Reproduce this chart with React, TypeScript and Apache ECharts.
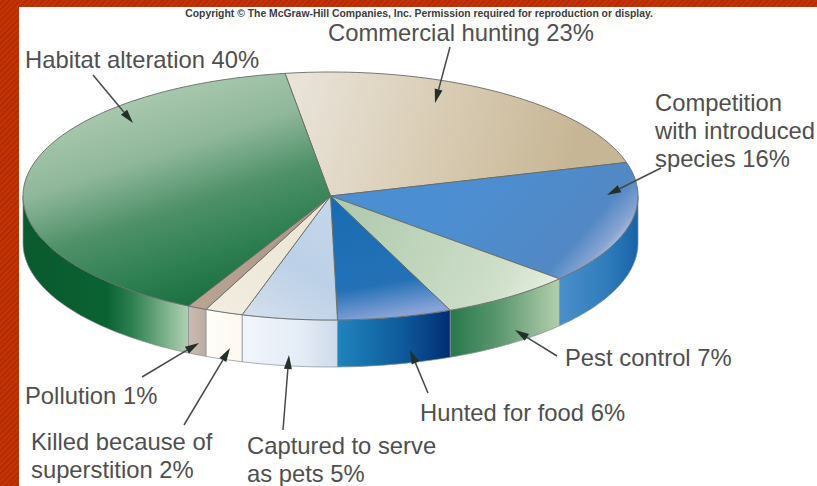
import React, { useEffect, useRef } from "react";
import * as echarts from "echarts";

// Causes of extinction, clockwise from the back of the disc.
const causes = [
  "Commercial hunting",
  "Competition with introduced species",
  "Pest control",
  "Hunted for food",
  "Captured to serve as pets",
  "Killed because of superstition",
  "Pollution",
  "Habitat alteration",
];
const shares = [23, 16, 7, 6, 5, 2, 1, 40];
const copyright =
  "Copyright © The McGraw-Hill Companies, Inc. Permission required for reproduction or display.";

// Disc geometry
const CX = 330.5;
const CY = 196;
const RX = 307.5;
const RY = 124;
const DEPTH = 47;
const START_DEG = -8.5;

const TEXT_COLOR = "#4f4f4f";
const EDGE = "#656b66";

type Stops = [number, string][];
const grad = (x: number, y: number, x2: number, y2: number, stops: Stops) =>
  new echarts.graphic.LinearGradient(
    x, y, x2, y2,
    stops.map(([offset, color]) => ({ offset, color })),
    true
  );

// Fill of the top face and the outer wall of each slice.
const topFills = [
  grad(300, 90, 570, 170, [[0, "#e8e2d7"], [0.5, "#d9ccb4"], [1, "#c7b695"]]),
  grad(470, 180, 590, 285, [[0, "#4c8ed2"], [0.75, "#5288c4"], [0.9, "#86a3d2"], [1, "#c6cee5"]]),
  grad(340, 200, 540, 305, [[0, "#aec9ac"], [0.8, "#cfdfca"], [1, "#e4eedd"]]),
  grad(345, 205, 365, 320, [[0, "#1a6cb2"], [0.72, "#2471b6"], [1, "#86a2d6"]]),
  grad(335, 210, 260, 320, [[0, "#c4d6ea"], [0.5, "#bcd0e7"], [1, "#d2deec"]]),
  grad(320, 210, 220, 310, [[0, "#ebe5d4"], [1, "#f1ecdf"]]),
  grad(320, 210, 200, 310, [[0, "#ab9684"], [1, "#b9a494"]]),
  grad(170, 80, 240, 295, [[0, "#abcab0"], [0.3, "#8fb79a"], [0.55, "#4f9169"], [0.8, "#2d7f51"], [1, "#1a6d3e"]]),
];
const wallFills = [
  "#999999",
  grad(561, 0, 638, 0, [[0, "#4a8fca"], [0.6, "#2f7cbc"], [1, "#1763a6"]]),
  grad(454, 0, 561, 0, [[0, "#2c7a4e"], [0.45, "#5f9a72"], [1, "#b6d0ae"]]),
  grad(340, 0, 454, 0, [[0, "#1f82ba"], [0.55, "#0e5a9c"], [1, "#00296f"]]),
  grad(244, 0, 340, 0, [[0, "#f1f5fb"], [0.6, "#e4ecf6"], [1, "#cbd9e9"]]),
  grad(210, 0, 244, 0, [[0, "#fffdf8"], [1, "#fdf8f0"]]),
  grad(190, 0, 210, 0, [[0, "#c9bab0"], [1, "#baa99d"]]),
  grad(23, 0, 190, 0, [[0, "#0a5a2e"], [0.5, "#0a6233"], [0.65, "#2d7f50"], [0.85, "#7ab08a"], [1, "#b5d2b3"]]),
];

const rimPoint = (deg: number, drop = 0): number[] => {
  const a = (deg * Math.PI) / 180;
  return [CX + RX * Math.sin(a), CY - RY * Math.cos(a) + drop];
};

const arcPoints = (from: number, to: number, drop = 0): number[][] => {
  const steps = Math.max(2, Math.ceil((to - from) / 1.5));
  const pts: number[][] = [];
  for (let i = 0; i <= steps; i++) pts.push(rimPoint(from + ((to - from) * i) / steps, drop));
  return pts;
};

const total = shares.reduce((s, v) => s + v, 0);

function renderSlice(params: any, api: any) {
  const i = params.dataIndex;
  const before = shares.slice(0, i).reduce((s, v) => s + v, 0);
  const from = START_DEG + (before / total) * 360;
  const to = from + (Number(api.value(0)) / total) * 360;
  const children: any[] = [];

  // The wall shows only along the front half of the rim (90° to 270° clockwise from the back).
  const wallFrom = Math.max(from, 90);
  const wallTo = Math.min(to, 270);
  if (wallTo > wallFrom) {
    const upper = arcPoints(wallFrom, wallTo);
    const lower = arcPoints(wallFrom, wallTo, DEPTH).reverse();
    children.push({
      type: "polygon",
      shape: { points: [...upper, ...lower] },
      style: { fill: wallFills[i], stroke: "#858c92", lineWidth: 0.7 },
    });
  }

  children.push({
    type: "polygon",
    shape: { points: [[CX, CY], ...arcPoints(from, to)] },
    style: { fill: topFills[i], stroke: EDGE, lineWidth: 0.9, lineJoin: "round" },
  });
  return { type: "group", children };
}

// Callout placement, in the same order as the causes.
const labelLayout = [
  { x: 328, y: 32, lines: ["Commercial hunting"] },
  { x: 655, y: 102, lines: ["Competition", "with introduced", "species"] },
  { x: 565, y: 357, lines: ["Pest control"] },
  { x: 420, y: 412, lines: ["Hunted for food"] },
  { x: 247, y: 445, lines: ["Captured to serve", "as pets"] },
  { x: 31, y: 441, lines: ["Killed because of", "superstition"] },
  { x: 25, y: 395, lines: ["Pollution"] },
  { x: 25, y: 59, lines: ["Habitat alteration"] },
];
const arrowLayout = [
  [450, 47, 435, 103],
  [661, 168, 607, 195],
  [557, 356, 515, 330],
  [428, 393, 410, 350],
  [283, 430, 289, 355],
  [184, 425, 230, 348],
  [142, 377, 199, 343],
  [93, 75, 133, 123],
];

function calloutGraphics() {
  const items: any[] = [];
  labelLayout.forEach((label, i) => {
    const lines = [...label.lines];
    lines[lines.length - 1] += ` ${shares[i]}%`;
    lines.forEach((line, n) => {
      items.push({
        type: "text",
        x: label.x,
        y: label.y + n * 28,
        z: 20,
        style: {
          text: line,
          fill: TEXT_COLOR,
          font: '23.8px "Liberation Sans", Arial, sans-serif',
          verticalAlign: "middle",
        },
      });
    });
  });
  arrowLayout.forEach(([x1, y1, x2, y2]) => {
    const len = Math.hypot(x2 - x1, y2 - y1);
    const ux = (x2 - x1) / len;
    const uy = (y2 - y1) / len;
    const headLen = 14;
    const headHalf = 4;
    const bx = x2 - ux * headLen;
    const by = y2 - uy * headLen;
    items.push({
      type: "line",
      z: 20,
      shape: { x1, y1, x2: bx, y2: by },
      style: { stroke: "#454b48", lineWidth: 1.5 },
    });
    items.push({
      type: "polygon",
      z: 20,
      shape: {
        points: [
          [x2, y2],
          [bx - uy * headHalf, by + ux * headHalf],
          [bx + uy * headHalf, by - ux * headHalf],
        ],
      },
      style: { fill: "#23302a" },
    });
  });
  items.push({
    type: "text",
    x: 419,
    y: 13,
    z: 20,
    style: {
      text: copyright,
      fill: "#3c3c3c",
      font: 'bold 10.4px "Liberation Sans", Arial, sans-serif',
      align: "center",
      verticalAlign: "middle",
    },
  });
  return items;
}

export default function App() {
  const ref = useRef<HTMLDivElement>(null);

  useEffect(() => {
    const chart = echarts.init(ref.current!, undefined, { renderer: "svg" });
    chart.setOption({
      animation: false,
      graphic: calloutGraphics(),
      series: [
        {
          type: "custom",
          coordinateSystem: "none",
          silent: true,
          clip: false,
          renderItem: renderSlice,
          data: causes.map((name, i) => ({ name, value: [shares[i]] })),
        },
      ],
    });
    return () => chart.dispose();
  }, []);

  return (
    <div
      style={{
        position: "fixed",
        left: 0,
        top: 0,
        width: 817,
        height: 486,
        overflow: "hidden",
        background: "repeating-linear-gradient(135deg, #c23405 0 2px, #b52c02 2px 4px)",
      }}
    >
      <div style={{ position: "absolute", left: 19, top: 7, right: 0, bottom: 0, background: "#ffffff" }} />
      <div ref={ref} style={{ position: "absolute", left: 0, top: 0, width: 817, height: 486 }} />
    </div>
  );
}
